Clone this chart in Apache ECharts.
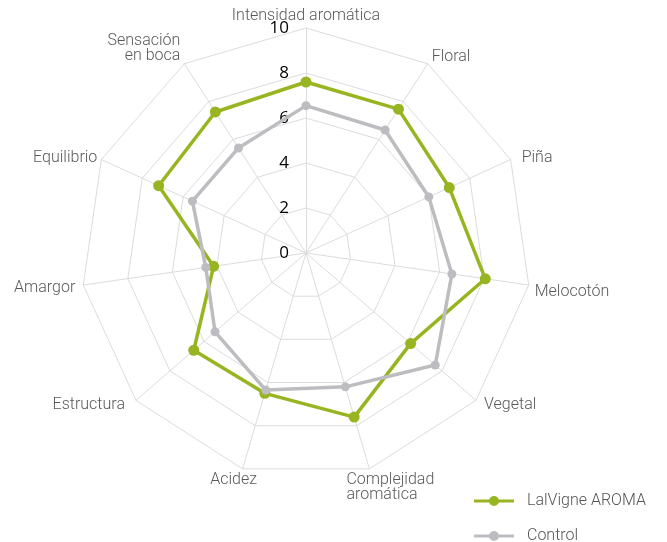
<!DOCTYPE html>
<html>
<head>
<meta charset="utf-8">
<script src="https://cdn.jsdelivr.net/npm/echarts@6/dist/echarts.min.js"></script>
<style>html,body{margin:0;padding:0;background:#fff;}#c{width:667px;height:542px;}</style>
</head>
<body>
<div id="c"></div>
<script>
// Indicators in clockwise order starting at the top
const indicators = ['Intensidad aromática','Floral','Piña','Melocotón','Vegetal','Complejidad\naromática','Acidez','Estructura','Amargor','Equilibrio','Sensación\nen boca'];
const lalvigne = [7.6, 7.6, 7.0, 8.05, 6.15, 7.6, 6.5, 6.6, 4.15, 7.2, 7.45];
const control = [6.55, 6.5, 6.0, 6.55, 7.6, 6.2, 6.35, 5.35, 4.5, 5.55, 5.55];
const seriesNames = ['LalVigne AROMA', 'Control'];
const tickMax = 10;
const tickStep = 2;

// layout (not data)
const CX = 306, CY = 253, R = 225;
// per-label placement relative to the indicator's outer vertex: [align, verticalAlign, dx, dy]
const nameLayout = [
  ['center','middle',0,-12], ['left','middle',4,-7], ['left','middle',11,-2], ['left','middle',6,7],
  ['left','middle',8,5], ['left','top',-23,4], ['center','middle',-9,11], ['right','middle',-11,5],
  ['right','middle',-8,3], ['right','middle',-4,-2], ['right','middle',-4,-15]
];

// ECharts radar runs counter-clockwise: feed it in reversed order (keeping the first) to draw clockwise
const n = indicators.length;
const order = [0]; for (let i = n - 1; i >= 1; i--) order.push(i);
const reorder = arr => order.map(i => arr[i]);

const nameGraphics = indicators.map((name, i) => {
  const a = i * 2 * Math.PI / n;
  const vx = CX + R * Math.sin(a), vy = CY - R * Math.cos(a);
  const L = nameLayout[i];
  return {
    type: 'text', x: vx + L[2], y: vy + L[3], silent: true,
    style: {text: name, align: L[0], verticalAlign: L[1], fill: '#595959',
            font: '300 16px Roboto', lineHeight: 15}
  };
});

const green = '#97b520', grey = '#bdbdc1';
const legendIcon = 'path://M0,3.6H40V6.4H0Z M20,0A5,5,0,1,1,20,10A5,5,0,1,1,20,0Z';

const chart = echarts.init(document.getElementById('c'));
chart.setOption({
  animation: false,
  backgroundColor: '#fff',
  legend: {
    orient: 'vertical', left: 474, top: 493, height: 80, padding: 0,
    itemWidth: 40, itemHeight: 10, itemGap: 19, icon: legendIcon,
    textStyle: {color: '#555', fontSize: 16, fontFamily: 'Roboto', fontWeight: 300, padding: [0,0,0,8]},
    data: seriesNames
  },
  radar: {
    center: [CX, CY], radius: R, startAngle: 90, shape: 'polygon', splitNumber: tickMax / tickStep,
    indicator: reorder(indicators).map(nm => ({name: nm, min: 0, max: tickMax})),
    axisName: {show: false},
    splitArea: {show: false},
    splitLine: {lineStyle: {color: '#dcdcdc', width: 1}},
    axisLine: {lineStyle: {color: '#dcdcdc', width: 1}}
  },
  polar: {center: [CX, CY], radius: R},
  angleAxis: {show: false, startAngle: 90, min: 0, max: 360},
  radiusAxis: {
    min: 0, max: tickMax, interval: tickStep,
    axisLine: {show: false}, axisTick: {show: false}, splitLine: {show: false},
    axisLabel: {color: '#000', fontSize: 17, fontFamily: 'Open Sans', margin: 17}
  },
  graphic: nameGraphics,
  series: [{
    type: 'radar',
    data: [
      {name: seriesNames[0], value: reorder(lalvigne), symbol: 'circle', symbolSize: 11,
       lineStyle: {color: green, width: 3.5}, itemStyle: {color: green}},
      {name: seriesNames[1], value: reorder(control), symbol: 'circle', symbolSize: 9,
       lineStyle: {color: grey, width: 3.5}, itemStyle: {color: grey}}
    ]
  }]
});
</script>
</body>
</html>
